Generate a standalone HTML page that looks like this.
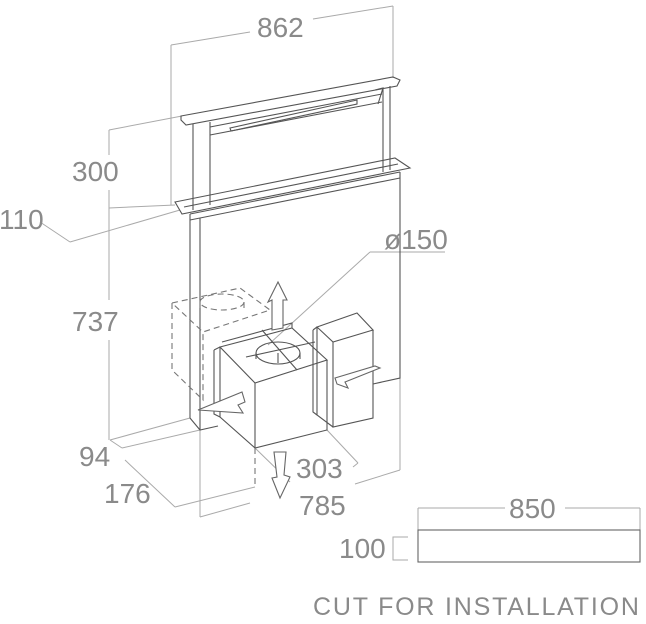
<!DOCTYPE html>
<html><head><style>
html,body{margin:0;padding:0;background:#fff;width:646px;height:624px;overflow:hidden}
svg{display:block}
text{font-family:"Liberation Sans",sans-serif;fill:#8a8a8a;font-size:28px}
</style></head><body>
<svg width="646" height="624" viewBox="0 0 646 624">
<g fill="none" stroke="#aaa" stroke-width="1">
<line x1="171" y1="205" x2="171" y2="45"/>
<line x1="393" y1="78" x2="393" y2="6"/>
<line x1="171" y1="45" x2="250" y2="32"/>
<line x1="313" y1="19" x2="393" y2="6"/>
<line x1="109" y1="130" x2="109" y2="155"/>
<line x1="109" y1="190" x2="109" y2="300"/>
<line x1="109" y1="340" x2="109" y2="440"/>
<line x1="109" y1="130" x2="182" y2="116"/>
<line x1="109" y1="208" x2="175" y2="205"/>
<line x1="40" y1="222" x2="70" y2="242"/>
<line x1="70" y1="242" x2="180" y2="210"/>
<line x1="110" y1="440" x2="190" y2="418"/>
<line x1="110" y1="440" x2="122" y2="448"/>
<line x1="122" y1="448" x2="200" y2="430"/>
<line x1="125" y1="460" x2="175" y2="507"/>
<line x1="175" y1="507" x2="255" y2="487"/>
<line x1="200" y1="430" x2="200" y2="517"/>
<line x1="200" y1="517" x2="250" y2="503"/>
<line x1="355" y1="484" x2="400" y2="470"/>
<line x1="400" y1="470" x2="400" y2="378"/>
<line x1="255" y1="448" x2="290" y2="482"/>
<line x1="327" y1="430" x2="358" y2="463"/>
<line x1="353" y1="467" x2="358" y2="463"/>
<line x1="445" y1="252" x2="370" y2="252"/>
<line x1="370" y1="252" x2="268" y2="345"/>
<line x1="418" y1="508" x2="505" y2="508"/>
<line x1="565" y1="508" x2="640" y2="508"/>
<line x1="418" y1="508" x2="418" y2="530"/>
<line x1="640" y1="508" x2="640" y2="530"/>
<path d="M408 537 H393 V560 H408"/>
</g>
<g fill="none" stroke="#555" stroke-width="1.1">
<path d="M181 116 L393 77 L400 80 L397 86 L186 125 L181 120 Z"/>
<path d="M193 124 V210 M210 122 V205"/>
<path d="M383 88 V172 M390 86 V170"/>
<path d="M210 127 L382 94 M210 135 L382 102"/>
<path d="M230 128 L357 100 L357 104 L231 131 Z"/>
<path d="M375 90 L383 88 L378 104"/>
<path d="M175 202 L395 158 L410 168 L182 214 Z"/>
<path d="M184 207 L398 164"/>
<path d="M190 214 L400 172 M190 220 L400 178"/>
<path d="M190 214 V418 L200 430 L218 426"/>
<path d="M200 218 V430"/>
<path d="M400 172 V378 L373 384"/>
<path d="M220 347 L292 328 L327 360 L255 383 Z"/>
<path d="M255 383 V448 L327 430 V360"/>
<path d="M220 347 V417 L255 448"/>
<path d="M214 350 V414 L220 417 M214 350 L220 347"/>
<path d="M292 328 L292 323 L222 342"/>
<ellipse cx="278" cy="353" rx="22" ry="11"/>
<path d="M278 353 v10 M256 353 v6 M300 353 v6"/>
<line x1="246" y1="357" x2="315" y2="342"/>
<line x1="262" y1="330" x2="297" y2="370"/>
<path d="M317 327 L357 313 L373 330 L333 342 Z"/>
<path d="M333 342 V427 L373 418 V330 M317 327 V415 L333 427"/>
<path d="M313 330 V412 L317 415 M313 330 L317 327"/>
</g>
<g fill="none" stroke="#777" stroke-width="1.1" stroke-dasharray="6,4">
<path d="M172 303 L240 288 L270 310 L203 332 Z"/>
<path d="M172 303 V370 L203 400 V332"/>
<ellipse cx="222" cy="302" rx="22" ry="8"/>
<path d="M200 302 V312 M244 302 V310"/>
<path d="M255 448 V487"/>
</g>
<g fill="#fff" stroke="#666" stroke-width="1.1">
<path d="M272 330 L272 300 L268 302 L278 282 L287 300 L283 300 L283 328 Z"/>
<path d="M274 452 L286 452 L284 475 L290 477 L280 498 L272 478 L277 477 Z"/>
<path d="M245 402 L242 392 L198 410 L243 413 L238 405 Z"/>
<path d="M335 378 L375 366 L380 368 L345 382 L348 388 L337 384 Z"/>
<rect x="418" y="530" width="222" height="32"/>
</g>
<text x="257" y="37">862</text>
<text x="72" y="181">300</text>
<text x="-1" y="229">110</text>
<text x="72" y="331">737</text>
<text x="384" y="249">ø150</text>
<text x="79" y="466">94</text>
<text x="104" y="503">176</text>
<text x="296" y="478">303</text>
<text x="299" y="515">785</text>
<text x="509" y="518">850</text>
<text x="339" y="558">100</text>
<text x="313" y="615" style="font-size:25px;letter-spacing:1.8px">CUT FOR INSTALLATION</text>
</svg>
</body></html>
